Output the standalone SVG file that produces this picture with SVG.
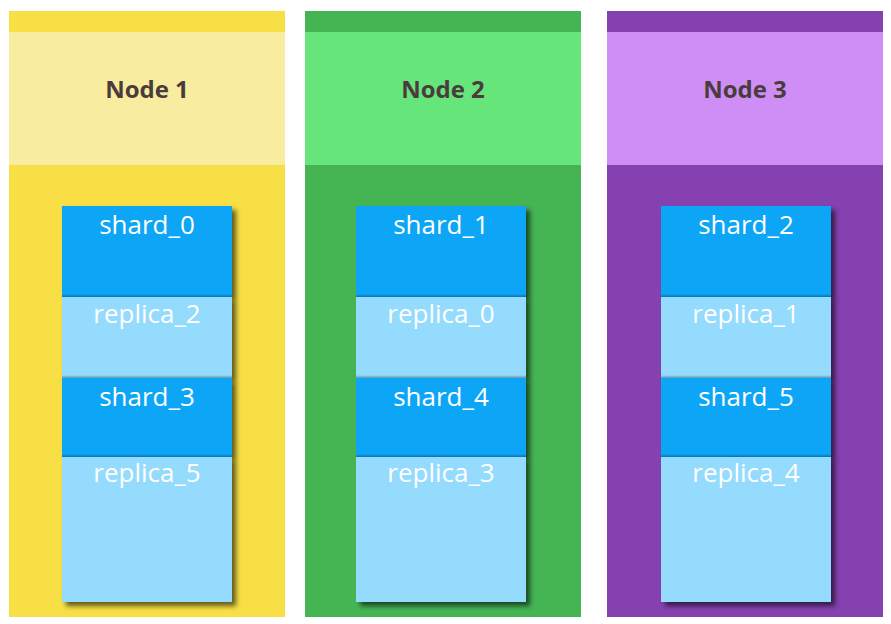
<svg xmlns="http://www.w3.org/2000/svg" width="891" height="624" viewBox="0 0 891 624">
<defs>
<filter id="sh" x="-20%" y="-20%" width="150%" height="150%">
<feDropShadow dx="4" dy="4" stdDeviation="2.5" flood-color="#000" flood-opacity="0.6"/>
</filter>
<linearGradient id="seam" x1="0" y1="0" x2="0" y2="1">
<stop offset="0" stop-color="#000" stop-opacity="0"/>
<stop offset="1" stop-color="#000" stop-opacity="0.3"/>
</linearGradient>
</defs>
<style>
.title{font-family:"Open Sans","Noto Sans",sans-serif;font-weight:bold;font-size:24px;fill:#4a3c3c;text-anchor:middle}
.lbl{font-family:"Open Sans","Noto Sans",sans-serif;font-size:26px;fill:#ffffff;text-anchor:middle}
.shard{fill:#0ba6f6;filter:url(#sh)}
.replica{fill:#94dbfd;filter:url(#sh)}
.seam{fill:url(#seam)}
</style>
<rect width="891" height="624" fill="#ffffff"/>
<g id="node1">
<rect x="9" y="11" width="276" height="606" fill="#f7df45"/>
<rect x="9" y="32" width="276" height="133" fill="#f7eca0"/>
<text class="title" x="147" y="98">Node 1</text>
</g>
<g id="node2">
<rect x="305" y="11" width="276" height="606" fill="#45b554"/>
<rect x="305" y="32" width="276" height="133" fill="#66e57b"/>
<text class="title" x="443" y="98">Node 2</text>
</g>
<g id="node3">
<rect x="607" y="11" width="276" height="606" fill="#8541b0"/>
<rect x="607" y="32" width="276" height="133" fill="#ce8ef6"/>
<text class="title" x="745" y="98">Node 3</text>
</g>
<g id="shard_0"><rect class="shard" x="62" y="206" width="170" height="91"/><rect class="seam" x="62" y="294" width="170" height="3"/><text class="lbl" x="147" y="234">shard_0</text></g>
<g id="replica_2"><rect class="replica" x="62" y="297" width="170" height="81"/><rect class="seam" x="62" y="375" width="170" height="3"/><text class="lbl" x="147" y="323">replica_2</text></g>
<g id="shard_3"><rect class="shard" x="62" y="378" width="170" height="79"/><rect class="seam" x="62" y="454" width="170" height="3"/><text class="lbl" x="147" y="406">shard_3</text></g>
<g id="replica_5"><rect class="replica" x="62" y="457" width="170" height="145"/><text class="lbl" x="147" y="482">replica_5</text></g>
<g id="shard_1"><rect class="shard" x="356" y="206" width="170" height="91"/><rect class="seam" x="356" y="294" width="170" height="3"/><text class="lbl" x="441" y="234">shard_1</text></g>
<g id="replica_0"><rect class="replica" x="356" y="297" width="170" height="81"/><rect class="seam" x="356" y="375" width="170" height="3"/><text class="lbl" x="441" y="323">replica_0</text></g>
<g id="shard_4"><rect class="shard" x="356" y="378" width="170" height="79"/><rect class="seam" x="356" y="454" width="170" height="3"/><text class="lbl" x="441" y="406">shard_4</text></g>
<g id="replica_3"><rect class="replica" x="356" y="457" width="170" height="145"/><text class="lbl" x="441" y="482">replica_3</text></g>
<g id="shard_2"><rect class="shard" x="661" y="206" width="170" height="91"/><rect class="seam" x="661" y="294" width="170" height="3"/><text class="lbl" x="746" y="234">shard_2</text></g>
<g id="replica_1"><rect class="replica" x="661" y="297" width="170" height="81"/><rect class="seam" x="661" y="375" width="170" height="3"/><text class="lbl" x="746" y="323">replica_1</text></g>
<g id="shard_5"><rect class="shard" x="661" y="378" width="170" height="79"/><rect class="seam" x="661" y="454" width="170" height="3"/><text class="lbl" x="746" y="406">shard_5</text></g>
<g id="replica_4"><rect class="replica" x="661" y="457" width="170" height="145"/><text class="lbl" x="746" y="482">replica_4</text></g>
<g id="connectors"></g>
</svg>
